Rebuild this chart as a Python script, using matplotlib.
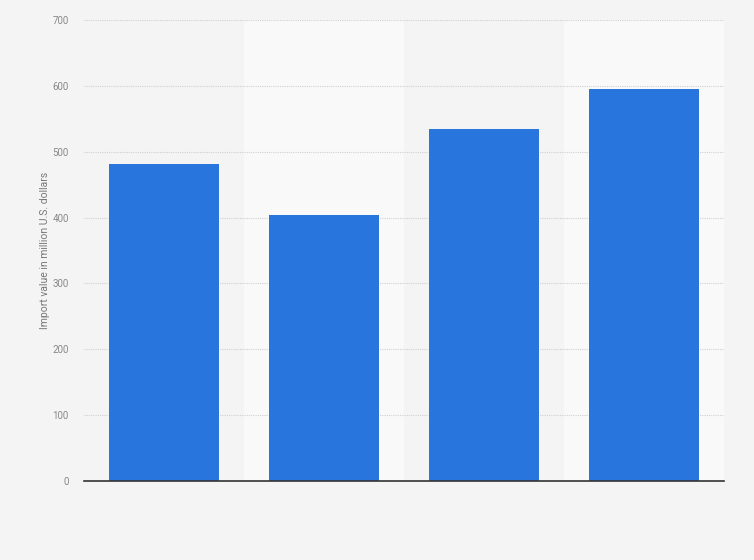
import matplotlib.pyplot as plt
import numpy as np

plt.rcParams['font.family'] = ['Roboto', 'DejaVu Sans']

# Values (x labels are not shown in the original)
categories = ['1', '2', '3', '4']
values = [481, 404, 535, 595]
y_ticks = [0, 100, 200, 300, 400, 500, 600, 700]

bg = '#f4f4f4'
band = '#f9f9f9'
bar_color = '#2876dd'

fig = plt.figure(figsize=(7.54, 5.6), dpi=100, facecolor=bg)
ax = fig.add_axes([84 / 754, 1 - 481 / 560, 640 / 754, 461 / 560])
ax.set_facecolor(bg)

x = np.arange(len(categories))
# alternating column bands
for i in x:
    if i % 2 == 1:
        ax.axvspan(i - 0.5, i + 0.5, color=band, zorder=0, lw=0)

ax.bar(x, values, width=0.6875, color=bar_color, zorder=3)

ax.set_xlim(-0.5, len(categories) - 0.5)
ax.set_ylim(0, 700)
ax.set_yticks(y_ticks)
ax.set_yticklabels([str(t) for t in y_ticks], fontsize=7, color='#888888')
ax.set_xticks([])
ax.tick_params(axis='y', length=0, pad=11)
ax.grid(axis='y', color='#d0d0d0', linestyle=(0, (1, 1)), linewidth=0.8, zorder=1)

for s in ['top', 'right', 'left']:
    ax.spines[s].set_visible(False)
ax.spines['bottom'].set_color('#333333')
ax.spines['bottom'].set_linewidth(1.2)
ax.spines['bottom'].set_zorder(4)

ax.set_ylabel('Import value in million U.S. dollars', fontsize=7.5, color='#777777', labelpad=2)

fig.savefig('out.png', dpi=100, facecolor=bg)
